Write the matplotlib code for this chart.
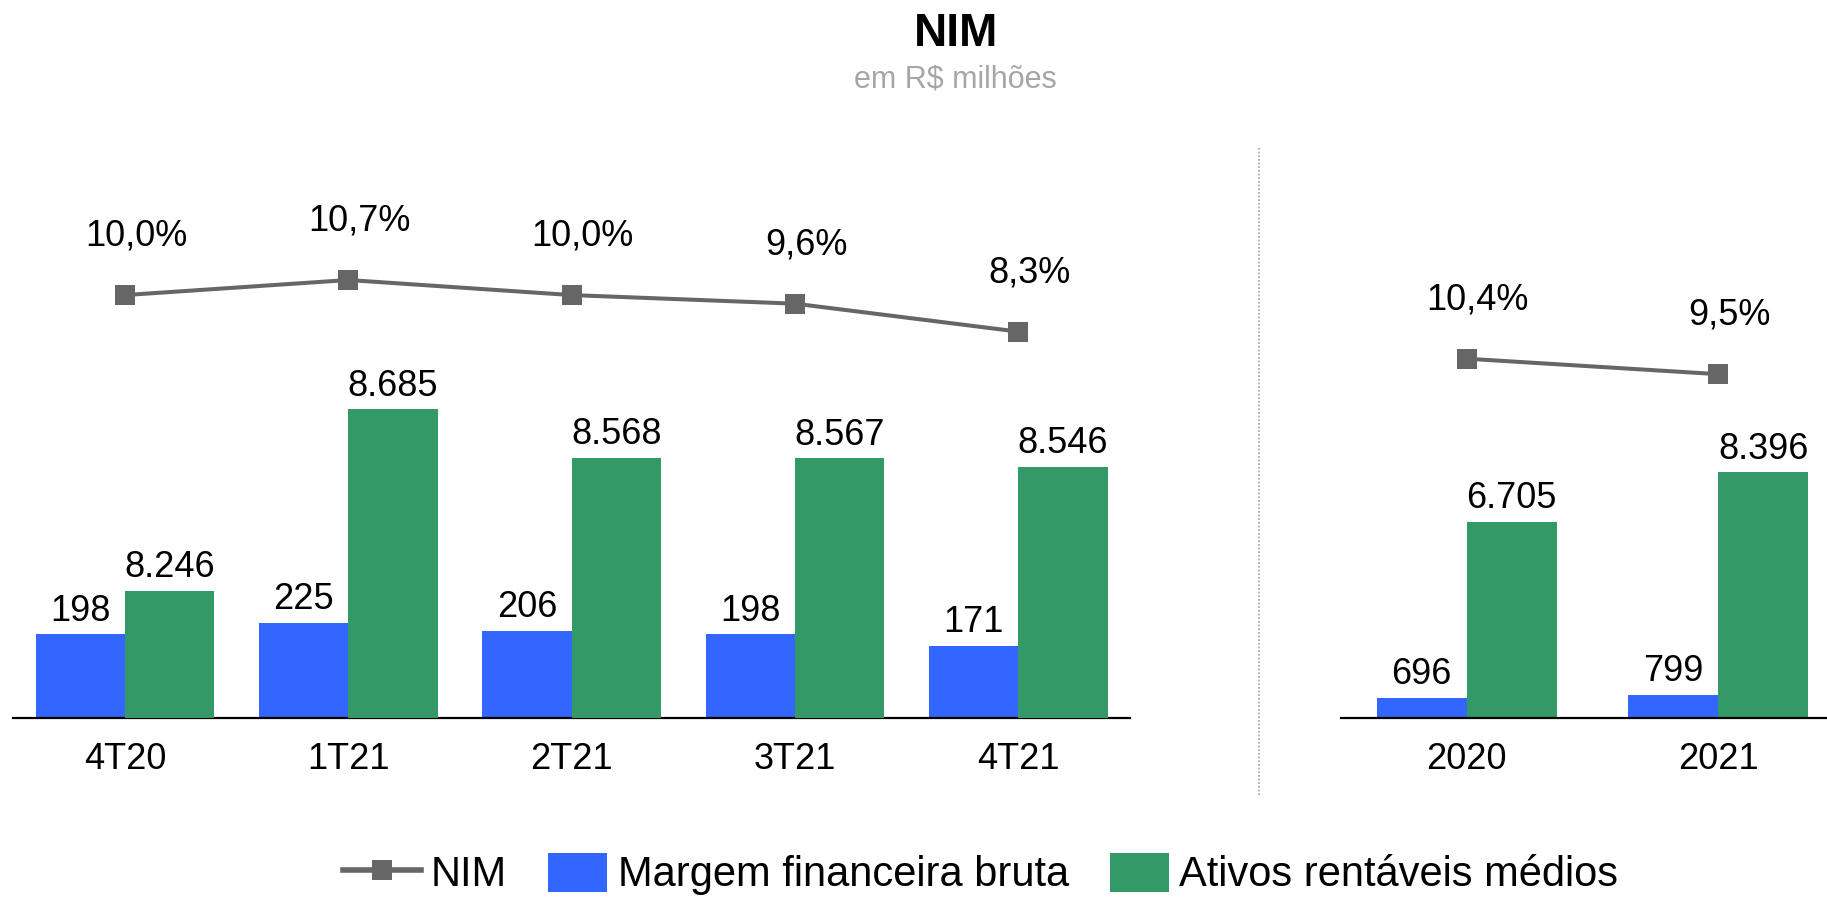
import matplotlib
matplotlib.use("Agg")
import matplotlib.pyplot as plt
from matplotlib.lines import Line2D
from matplotlib.patches import Patch, Rectangle
from matplotlib.legend_handler import HandlerPatch
import numpy as np

plt.rcParams['font.family'] = ['Liberation Sans', 'DejaVu Sans']

# ---------------- data ----------------
quarters = ['4T20', '1T21', '2T21', '3T21', '4T21']
margem_q = [198, 225, 206, 198, 171]
ativos_q = [8246, 8685, 8568, 8567, 8546]
nim_q = [10.0, 10.7, 10.0, 9.6, 8.3]

years = ['2020', '2021']
margem_y = [696, 799]
ativos_y = [6705, 8396]
nim_y = [10.4, 9.5]

title = 'NIM'
subtitle = 'em R$ milhões'
legend_labels = ['NIM', 'Margem financeira bruta', 'Ativos rentáveis médios']

# ---------------- style ----------------
BLUE = '#3366FF'
GREEN = '#339966'
GREY = '#666666'
W, H = 1827, 898
FS = 26


def fmt_int(v):
    return f"{v:,}".replace(',', '.')


def fmt_pct(v):
    return f"{v:.1f}%".replace('.', ',')


fig = plt.figure(figsize=(W / 100, H / 100), dpi=100)

base_y = 718
top_y = 148
ax_h = (base_y - top_y) / H


def setup(ax):
    for s in ax.spines.values():
        s.set_visible(False)
    ax.set_yticks([])
    ax.patch.set_visible(False)


def panel(rect, cats, blue_vals, green_vals, nim_vals, width, blue_lim, green_lim, nim_lim):
    ax = fig.add_axes(rect)
    x = np.arange(len(cats))
    setup(ax)
    ax.spines['bottom'].set_visible(True)
    ax.spines['bottom'].set_color('black')
    ax.spines['bottom'].set_linewidth(1.6)
    ax.set_xlim(-0.5, len(cats) - 0.5)
    ax.set_xticks(x)
    ax.set_xticklabels(cats, fontsize=FS)
    ax.tick_params(axis='x', length=0, pad=17)

    ax.set_ylim(*blue_lim)
    bb = ax.bar(x - width / 2, blue_vals, width, color=BLUE, linewidth=0)
    for r, v in zip(bb, blue_vals):
        ax.annotate(fmt_int(v), (r.get_x() + r.get_width() / 2, r.get_height()),
                    xytext=(0, 9.7), textcoords='offset points',
                    ha='center', va='baseline', fontsize=FS)

    if green_lim is None:
        axg = ax
    else:
        axg = ax.twinx()
        setup(axg)
        axg.set_ylim(*green_lim)
    base = axg.get_ylim()[0]
    gb = axg.bar(x + width / 2, np.array(green_vals) - base, width, bottom=base,
                 color=GREEN, linewidth=0)
    for r, v in zip(gb, green_vals):
        axg.annotate(fmt_int(v), (r.get_x() + r.get_width() / 2, v),
                     xytext=(0, 9.7), textcoords='offset points',
                     ha='center', va='baseline', fontsize=FS)

    axn = ax.twinx()
    setup(axn)
    axn.set_ylim(*nim_lim)
    axn.plot(x, nim_vals, color=GREY, lw=2.9, marker='s', ms=14.4,
             markeredgewidth=0, solid_capstyle='round')
    for xi, v in zip(x, nim_vals):
        axn.annotate(fmt_pct(v), (xi, v), xytext=(7.9, 35.6), textcoords='offset points',
                     ha='center', va='baseline', fontsize=FS)
    return ax


# left panel (quarters)
lx0, lx1 = 13.3, 1130.0
panel([lx0 / W, 1 - base_y / H, (lx1 - lx0) / W, ax_h],
      quarters, margem_q, ativos_q, nim_q, 0.4,
      (0, 1347.5), (7939, 9315.8), (-9.67, 16.84))

# right panel (years)
rx0, rx1 = 1340.9, 1844.1
panel([rx0 / W, 1 - base_y / H, (rx1 - rx0) / W, ax_h],
      years, margem_y, ativos_y, nim_y, 0.358,
      (0, 19454), None, (-10.49, 22.65))

# separator
fig.add_artist(Line2D([1259 / W, 1259 / W], [1 - 148 / H, 1 - 796 / H],
                      transform=fig.transFigure, color='#A0A0A0', lw=1.2,
                      linestyle=(0, (1, 1.2))))

# titles
fig.text(956.5 / W, 1 - 45.7 / H, title, ha='center', va='baseline',
         fontsize=33, fontweight='bold', color='black')
fig.text(955 / W, 1 - 88 / H, subtitle, ha='center', va='baseline',
         fontsize=22, color='#A6A6A6')

# legend
frac = 59 / 78


def patch_func(legend, orig_handle, xdescent, ydescent, width, height, fontsize):
    return Rectangle((-xdescent + width * (1 - frac), -ydescent), width * frac, height)


handles = [Line2D([], [], color=GREY, lw=4, marker='s', ms=14.4, markeredgewidth=0),
           Patch(facecolor=BLUE, linewidth=0),
           Patch(facecolor=GREEN, linewidth=0)]
fig.legend(handles, legend_labels, loc='center', bbox_to_anchor=(980.5 / W, 1 - 874 / H),
           ncol=3, frameon=False, fontsize=30, handlelength=1.87, handleheight=1.06,
           handletextpad=0.25, columnspacing=0.53, borderpad=0, borderaxespad=0,
           handler_map={Patch: HandlerPatch(patch_func=patch_func)})

fig.savefig('out.png', dpi=100)
